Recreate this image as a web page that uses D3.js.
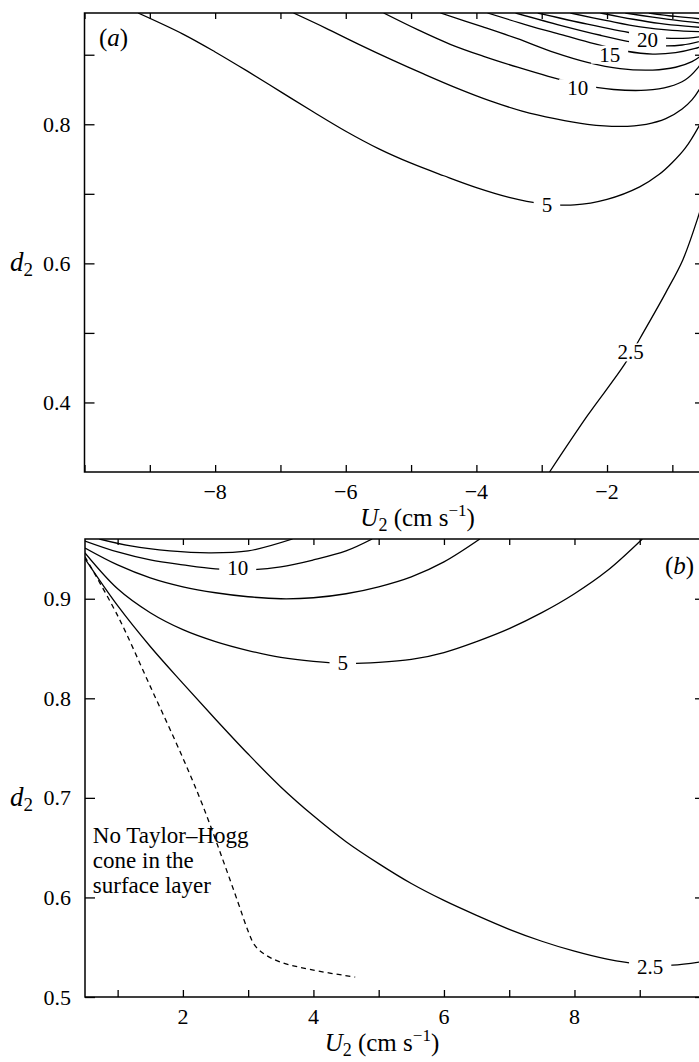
<!DOCTYPE html>
<html>
<head>
<meta charset="utf-8">
<script src="https://cdn.jsdelivr.net/npm/d3@7"></script>
</head>
<body style="margin:0">
<svg id="chart" width="699" height="1062"></svg>
<script>
// ---------- panel (a): U2 < 0 ----------
const uDomainA = [-10, -0.5];
const dDomainA = [0.3, 0.96];
const uTicksA = [-10, -9, -8, -7, -6, -5, -4, -3, -2, -1];
const uTickLabelsA = [-8, -6, -4, -2];
const dTicksA = [0.4, 0.5, 0.6, 0.7, 0.8, 0.9];
const dTickLabelsA = [0.4, 0.6, 0.8];

// contour lines, [U2, d2]
const a2_5 = [[-2.88, 0.30], [-2.3, 0.381], [-1.73, 0.455], [-1.43, 0.503], [-1.1, 0.558], [-0.84, 0.605], [-0.615, 0.664], [-0.5, 0.70]];
const a5 = [[-9.18, 0.96], [-8.5, 0.930], [-8.0, 0.904], [-7.5, 0.876], [-7.0, 0.847], [-6.5, 0.818], [-6.0, 0.790], [-5.5, 0.765], [-5.0, 0.744], [-4.5, 0.726], [-4.0, 0.709], [-3.5, 0.695], [-3.0, 0.686], [-2.5, 0.684], [-2.0, 0.692], [-1.5, 0.710], [-1.2, 0.728], [-1.0, 0.745], [-0.8, 0.766], [-0.6, 0.796], [-0.5, 0.815]];
const a7_5 = [[-6.80, 0.96], [-6.3, 0.938], [-5.8, 0.915], [-5.3, 0.893], [-4.8, 0.872], [-4.3, 0.852], [-3.8, 0.834], [-3.3, 0.819], [-2.8, 0.808], [-2.3, 0.800], [-1.8, 0.797], [-1.4, 0.800], [-1.1, 0.808], [-0.85, 0.822], [-0.7, 0.835], [-0.58, 0.851], [-0.5, 0.866]];
const a10 = [[-5.42, 0.96], [-4.9, 0.936], [-4.40, 0.915], [-3.9, 0.898], [-3.37, 0.882], [-2.9, 0.869], [-2.4, 0.857], [-1.9, 0.850], [-1.4, 0.849], [-1.05, 0.854], [-0.8, 0.864], [-0.62, 0.880], [-0.5, 0.897]];
const a12_5 = [[-4.55, 0.96], [-3.9, 0.940], [-3.37, 0.923], [-2.8, 0.903], [-2.3, 0.889], [-1.8, 0.880], [-1.3, 0.878], [-0.95, 0.882], [-0.7, 0.890], [-0.5, 0.903]];
const a15 = [[-3.83, 0.96], [-3.2, 0.942], [-2.7, 0.929], [-2.2, 0.916], [-1.7, 0.905], [-1.3, 0.901], [-0.95, 0.903], [-0.65, 0.909], [-0.5, 0.914]];
const a17_5 = [[-3.40, 0.96], [-2.7, 0.942], [-2.10, 0.928], [-1.6, 0.918], [-1.2, 0.913], [-0.85, 0.914], [-0.5, 0.921]];
const a20 = [[-3.06, 0.96], [-2.3, 0.944], [-1.61, 0.931], [-1.1, 0.924], [-0.75, 0.924], [-0.5, 0.927]];
const a22_5 = [[-2.56, 0.96], [-2.0, 0.949], [-1.49, 0.940], [-1.0, 0.935], [-0.5, 0.933]];
const a25 = [[-2.10, 0.96], [-1.6, 0.951], [-1.2, 0.945], [-0.8, 0.941], [-0.5, 0.939]];
const a27_5 = [[-1.72, 0.96], [-1.3, 0.954], [-0.9, 0.949], [-0.5, 0.945]];
const a30 = [[-1.36, 0.96], [-0.95, 0.955], [-0.5, 0.951]];

// ---------- panel (b): U2 > 0 ----------
const uDomainB = [0.5, 10];
const dDomainB = [0.5, 0.96];
const uTicksB = [1, 2, 3, 4, 5, 6, 7, 8, 9];
const uTickLabelsB = [2, 4, 6, 8];
const dTicksB = [0.5, 0.6, 0.7, 0.8, 0.9];
const dTickLabelsB = [0.5, 0.6, 0.7, 0.8, 0.9];

const b2_5 = [[0.5, 0.940], [1.0, 0.893], [1.5, 0.852], [2.0, 0.815], [2.5, 0.779], [3.0, 0.744], [3.5, 0.711], [4.0, 0.682], [4.5, 0.656], [5.0, 0.634], [5.5, 0.614], [6.0, 0.597], [6.5, 0.582], [7.0, 0.568], [7.5, 0.556], [8.0, 0.546], [8.5, 0.538], [9.0, 0.533], [9.5, 0.532], [10, 0.536]];
const b5 = [[0.5, 0.946], [1.0, 0.910], [1.5, 0.886], [2.0, 0.869], [2.5, 0.857], [3.0, 0.848], [3.5, 0.841], [4.0, 0.837], [4.5, 0.835], [5.0, 0.836], [5.5, 0.839], [6.0, 0.846], [6.5, 0.857], [7.0, 0.870], [7.5, 0.886], [8.0, 0.905], [8.5, 0.928], [9.04, 0.96]];
const b7_5 = [[0.5, 0.951], [1.0, 0.934], [1.5, 0.921], [2.0, 0.912], [2.5, 0.906], [3.0, 0.902], [3.5, 0.900], [4.0, 0.901], [4.5, 0.905], [5.0, 0.912], [5.5, 0.922], [6.0, 0.937], [6.55, 0.96]];
const b10 = [[0.5, 0.958], [1.0, 0.947], [1.5, 0.939], [2.0, 0.934], [2.5, 0.930], [3.0, 0.929], [3.5, 0.932], [4.0, 0.939], [4.5, 0.948], [4.9, 0.96]];
const b12_5 = [[0.72, 0.96], [1.2, 0.953], [1.8, 0.948], [2.4, 0.946], [3.0, 0.948], [3.68, 0.96]];
// boundary of the Taylor–Hogg cone region (dashed)
const bCone = [[0.5, 0.942], [1.0, 0.883], [1.5, 0.812], [2.0, 0.740], [2.3, 0.693], [2.6, 0.640], [2.85, 0.594], [3.0, 0.566], [3.1, 0.552], [3.25, 0.543], [3.5, 0.535], [4.0, 0.527], [4.64, 0.520]];

const contoursA = [
  { level: 2.5, pts: a2_5, label: [-1.64, 0.472] },
  { level: 5, pts: a5, label: [-2.92, 0.684] },
  { level: 7.5, pts: a7_5 },
  { level: 10, pts: a10, label: [-2.45, 0.852] },
  { level: 12.5, pts: a12_5 },
  { level: 15, pts: a15, label: [-1.96, 0.900] },
  { level: 17.5, pts: a17_5 },
  { level: 20, pts: a20, label: [-1.38, 0.921] },
  { level: 22.5, pts: a22_5 },
  { level: 25, pts: a25 },
  { level: 27.5, pts: a27_5 },
  { level: 30, pts: a30 }
];
const contoursB = [
  { level: 2.5, pts: b2_5, label: [9.16, 0.530] },
  { level: 5, pts: b5, label: [4.45, 0.835] },
  { level: 7.5, pts: b7_5 },
  { level: 10, pts: b10, label: [2.84, 0.931] },
  { level: 12.5, pts: b12_5 }
];

const svg = d3.select("#chart");
const FACE = "'Liberation Serif'";

// marks go in one layer, all lettering in a layer on top
const marks = svg.append("g");
const words = svg.append("g");

const addText = (x, y, size, str) =>
  words.append("text")
    .attr("x", x).attr("y", y)
    .attr("font-size", size)
    .style("font-family", FACE)
    .text(str);

// approximate advance width of a numeric label, in em
const labelEm = s => Array.from(s).reduce((w, ch) => w + (ch === "." ? 0.25 : 0.5), 0);

function drawPanel(cfg) {
  const x = d3.scaleLinear().domain(cfg.uDomain).range([cfg.left, cfg.right]);
  const y = d3.scaleLinear().domain(cfg.dDomain).range([cfg.bottom, cfg.top]);
  const g = marks.append("g");

  const clipId = "clip-" + cfg.id;
  g.append("clipPath").attr("id", clipId)
    .append("rect")
    .attr("x", cfg.left).attr("y", cfg.top)
    .attr("width", cfg.right - cfg.left).attr("height", cfg.bottom - cfg.top);

  const line = d3.line().x(d => x(d[0])).y(d => y(d[1])).curve(d3.curveCatmullRom.alpha(0.5));

  const lines = g.append("g").attr("clip-path", `url(#${clipId})`);
  lines.selectAll("path.contour").data(cfg.contours).join("path")
    .attr("class", "contour")
    .attr("d", c => line(c.pts))
    .attr("fill", "none").attr("stroke", "#000").attr("stroke-width", 1.3);

  if (cfg.dashed) {
    lines.append("path").attr("d", line(cfg.dashed))
      .attr("fill", "none").attr("stroke", "#000").attr("stroke-width", 1.3)
      .attr("stroke-dasharray", "5,4");
  }

  // gaps cut in the labelled contours
  const fs = 21;
  const labelled = cfg.contours.filter(c => c.label);
  g.selectAll("rect.gap").data(labelled).join("rect")
    .attr("class", "gap")
    .attr("x", c => x(c.label[0]) - labelEm(String(c.level)) * fs / 2 - 8)
    .attr("y", c => y(c.label[1]) - 9)
    .attr("width", c => labelEm(String(c.level)) * fs + 16)
    .attr("height", 18)
    .attr("fill", "#fff");

  // frame
  g.append("rect")
    .attr("x", cfg.left).attr("y", cfg.top)
    .attr("width", cfg.right - cfg.left).attr("height", cfg.bottom - cfg.top)
    .attr("fill", "none").attr("stroke", "#000").attr("stroke-width", 1.5);

  // axes with inward ticks
  const axB = d3.axisBottom(x).tickValues(cfg.uTicks).tickSize(-7).tickFormat("");
  const axT = d3.axisTop(x).tickValues(cfg.uTicks).tickSize(-6).tickFormat("");
  const axL = d3.axisLeft(y).tickValues(cfg.dTicks).tickSize(-10).tickFormat("");
  const axR = d3.axisRight(y).tickValues(cfg.dTicks).tickSize(-10).tickFormat("");
  [[axB, `translate(0,${cfg.bottom})`], [axT, `translate(0,${cfg.top})`],
   [axL, `translate(${cfg.left},0)`], [axR, `translate(${cfg.right},0)`]].forEach(([ax, tr]) => {
    const a = g.append("g").attr("transform", tr).call(ax);
    a.select(".domain").remove();
    a.selectAll("text").remove();
    a.selectAll("line").attr("stroke", "#000").attr("stroke-width", 1.3);
  });

  // contour labels
  labelled.forEach(c => {
    addText(x(c.label[0]), y(c.label[1]) + 7, fs, String(c.level)).attr("text-anchor", "middle");
  });

  // tick labels
  cfg.uTickLabels.forEach(d => {
    addText(x(d), cfg.bottom + 27, 22, d < 0 ? "\u2212" + Math.abs(d) : String(d))
      .attr("text-anchor", "middle");
  });
  cfg.dTickLabels.forEach(d => {
    addText(cfg.left - 14, y(d) + 7.5, 22, d3.format(".1f")(d)).attr("text-anchor", "end");
  });

  // axis titles
  const xt = addText(x(cfg.titleU), cfg.bottom + 54, 25, null).attr("text-anchor", "middle");
  xt.append("tspan").style("font-style", "italic").text("U");
  xt.append("tspan").attr("font-size", 18).attr("dy", 5).text("2");
  xt.append("tspan").attr("dy", -5).text("\u00a0(cm s");
  xt.append("tspan").attr("font-size", 17).attr("dy", -10).text("\u22121");
  xt.append("tspan").attr("dy", 10).text(")");

  const yt = addText(10, y(cfg.titleD) + 8, 27, null);
  yt.append("tspan").style("font-style", "italic").text("d");
  yt.append("tspan").attr("font-size", 19).attr("dy", 5).text("2");

  // panel tag
  const tag = addText(cfg.tag[0], cfg.tag[1], 25, null);
  tag.append("tspan").text("(");
  tag.append("tspan").style("font-style", "italic").text(cfg.tagLetter);
  tag.append("tspan").text(")");

  return { x, y };
}

drawPanel({
  id: "a", uDomain: uDomainA, dDomain: dDomainA,
  left: 84.5, right: 705, top: 13, bottom: 472,
  uTicks: uTicksA, uTickLabels: uTickLabelsA, dTicks: dTicksA, dTickLabels: dTickLabelsA,
  contours: contoursA, titleU: -4.9, titleD: 0.6,
  tag: [99, 46], tagLetter: "a"
});

const pb = drawPanel({
  id: "b", uDomain: uDomainB, dDomain: dDomainB,
  left: 85, right: 705, top: 539, bottom: 997,
  uTicks: uTicksB, uTickLabels: uTickLabelsB, dTicks: dTicksB, dTickLabels: dTickLabelsB,
  contours: contoursB, dashed: bCone, titleU: 5.05, titleD: 0.7,
  tag: [665, 574], tagLetter: "b"
});

// region annotation
const note = ["No Taylor\u2013Hogg", "cone in the", "surface layer"];
note.forEach((d, i) => addText(pb.x(0.62), pb.y(0.655) + i * 25, 23, d));

// re-assert the face once the document's fonts have settled
const reassert = () => words.selectAll("text").style("font-family", FACE);
if (document.fonts && document.fonts.ready) document.fonts.ready.then(reassert);
setTimeout(reassert, 30);
</script>
</body>
</html>
